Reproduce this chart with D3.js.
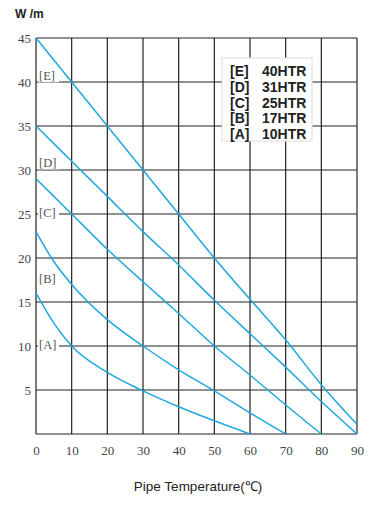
<!DOCTYPE html>
<html>
<head>
<meta charset="utf-8">
<script src="https://cdn.jsdelivr.net/npm/d3@7"></script>
<style>
  body { margin: 0; background: #fff; }
</style>
</head>
<body>
<script>
// chart values
let temps = [0, 5, 10, 20, 30, 40, 50, 60, 70, 80, 90]
let seriesE = [45, 42.5, 40, 35, 30, 25, 20, 15.3, 10.7, 5.6, 1.1]
let seriesD = [35, 33, 31, 27, 23, 19.2, 15.2, 11.4, 7.6, 3.7, 0]
let seriesC = [29, 27, 25, 21, 17.3, 13.7, 10, 6.7, 3.3, 0]
let seriesB = [23, 19.6, 17, 13, 10, 7.3, 4.9, 2.4, 0]
let seriesA = [16, 12.6, 10, 7, 4.9, 3.1, 1.5, 0]
let curveKeys = ['[E]', '[D]', '[C]', '[B]', '[A]']
let curveLabelY = [40.2, 30.3, 24.7, 17.2, 9.7]
let legendNames = ['40HTR', '31HTR', '25HTR', '17HTR', '10HTR']
let xTicks = [0, 10, 20, 30, 40, 50, 60, 70, 80, 90]
let yTicks = [5, 10, 15, 20, 25, 30, 35, 40, 45]

// measurements
let m = { width: 383, height: 506, left: 36, right: 357, top: 38, bottom: 434 }

let svg = d3.select('body')
  .append('svg')
  .attr('width', m.width)
  .attr('height', m.height)

let x = d3.scaleLinear().domain([0, 90]).range([m.left, m.right])
let y = d3.scaleLinear().domain([0, 45]).range([m.bottom, m.top])

// grid
let grid = svg.append('g').attr('stroke', '#222').attr('stroke-width', 1.2)
grid.selectAll('.vx')
  .data(xTicks)
  .enter().append('line')
    .attr('x1', d => x(d)).attr('x2', d => x(d))
    .attr('y1', y(45)).attr('y2', y(0))
grid.selectAll('.hy')
  .data([0].concat(yTicks))
  .enter().append('line')
    .attr('x1', x(0)).attr('x2', x(90))
    .attr('y1', d => y(d)).attr('y2', d => y(d))

// tick labels
let tickFont = '"Liberation Serif", "DejaVu Serif", serif'
svg.append('g')
  .attr('transform', 'translate(0,' + m.bottom + ')')
  .call(d3.axisBottom(x).tickValues(xTicks).tickSize(0).tickPadding(12))
  .call(g => g.select('.domain').remove())
  .selectAll('text')
    .attr('font-family', tickFont).attr('font-size', 13).attr('fill', '#444')

svg.append('g')
  .attr('transform', 'translate(' + m.left + ',0)')
  .call(d3.axisLeft(y).tickValues(yTicks).tickSize(0).tickPadding(5))
  .call(g => g.select('.domain').remove())
  .selectAll('text')
    .attr('font-family', tickFont).attr('font-size', 13).attr('fill', '#444')

// curves
let series = [seriesE, seriesD, seriesC, seriesB, seriesA]
let line = d3.line()
  .x(d => x(d[0]))
  .y(d => y(d[1]))
  .curve(d3.curveMonotoneX)

series.forEach(function(s, i) {
  let pts = s.map((v, j) => [temps[j], v])
  svg.append('path')
    .attr('d', line(pts))
    .attr('fill', 'none')
    .attr('stroke', '#1ea8e0')
    .attr('stroke-width', 1.5)

  // curve label
  svg.append('rect')
    .attr('x', x(0) + 2).attr('y', y(curveLabelY[i]) - 11)
    .attr('width', 21).attr('height', 13)
    .attr('fill', '#fff')
  svg.append('text')
    .attr('x', x(0) + 3)
    .attr('y', y(curveLabelY[i]))
    .attr('font-family', tickFont)
    .attr('font-size', 12.5)
    .attr('fill', '#555')
    .text(curveKeys[i])
})

// legend
let legend = svg.append('g')
legend.append('rect')
  .attr('x', 222).attr('y', 58)
  .attr('width', 90).attr('height', 83)
  .attr('fill', '#fff')
  .attr('stroke', '#ddd')
legendNames.forEach(function(name, i) {
  let row = legend.append('text')
    .attr('y', 76 + i * 15.8)
    .attr('font-family', '"Liberation Sans", Arial, sans-serif')
    .attr('font-weight', 'bold')
    .attr('font-size', 14)
    .attr('fill', '#222')
  row.append('tspan').attr('x', 230).text(curveKeys[i])
  row.append('tspan').attr('x', 262).text(name)
})

// axis titles
svg.append('text')
  .attr('x', 15).attr('y', 18)
  .attr('font-family', '"Liberation Sans", Arial, sans-serif')
  .attr('font-weight', 'bold')
  .attr('font-size', 12)
  .attr('fill', '#222')
  .text('W /m')

svg.append('text')
  .attr('x', 198).attr('y', 491)
  .attr('text-anchor', 'middle')
  .attr('font-family', '"Liberation Sans", Arial, sans-serif')
  .attr('font-size', 13.5)
  .attr('fill', '#222')
  .text('Pipe Temperature(℃)')
</script>
</body>
</html>
